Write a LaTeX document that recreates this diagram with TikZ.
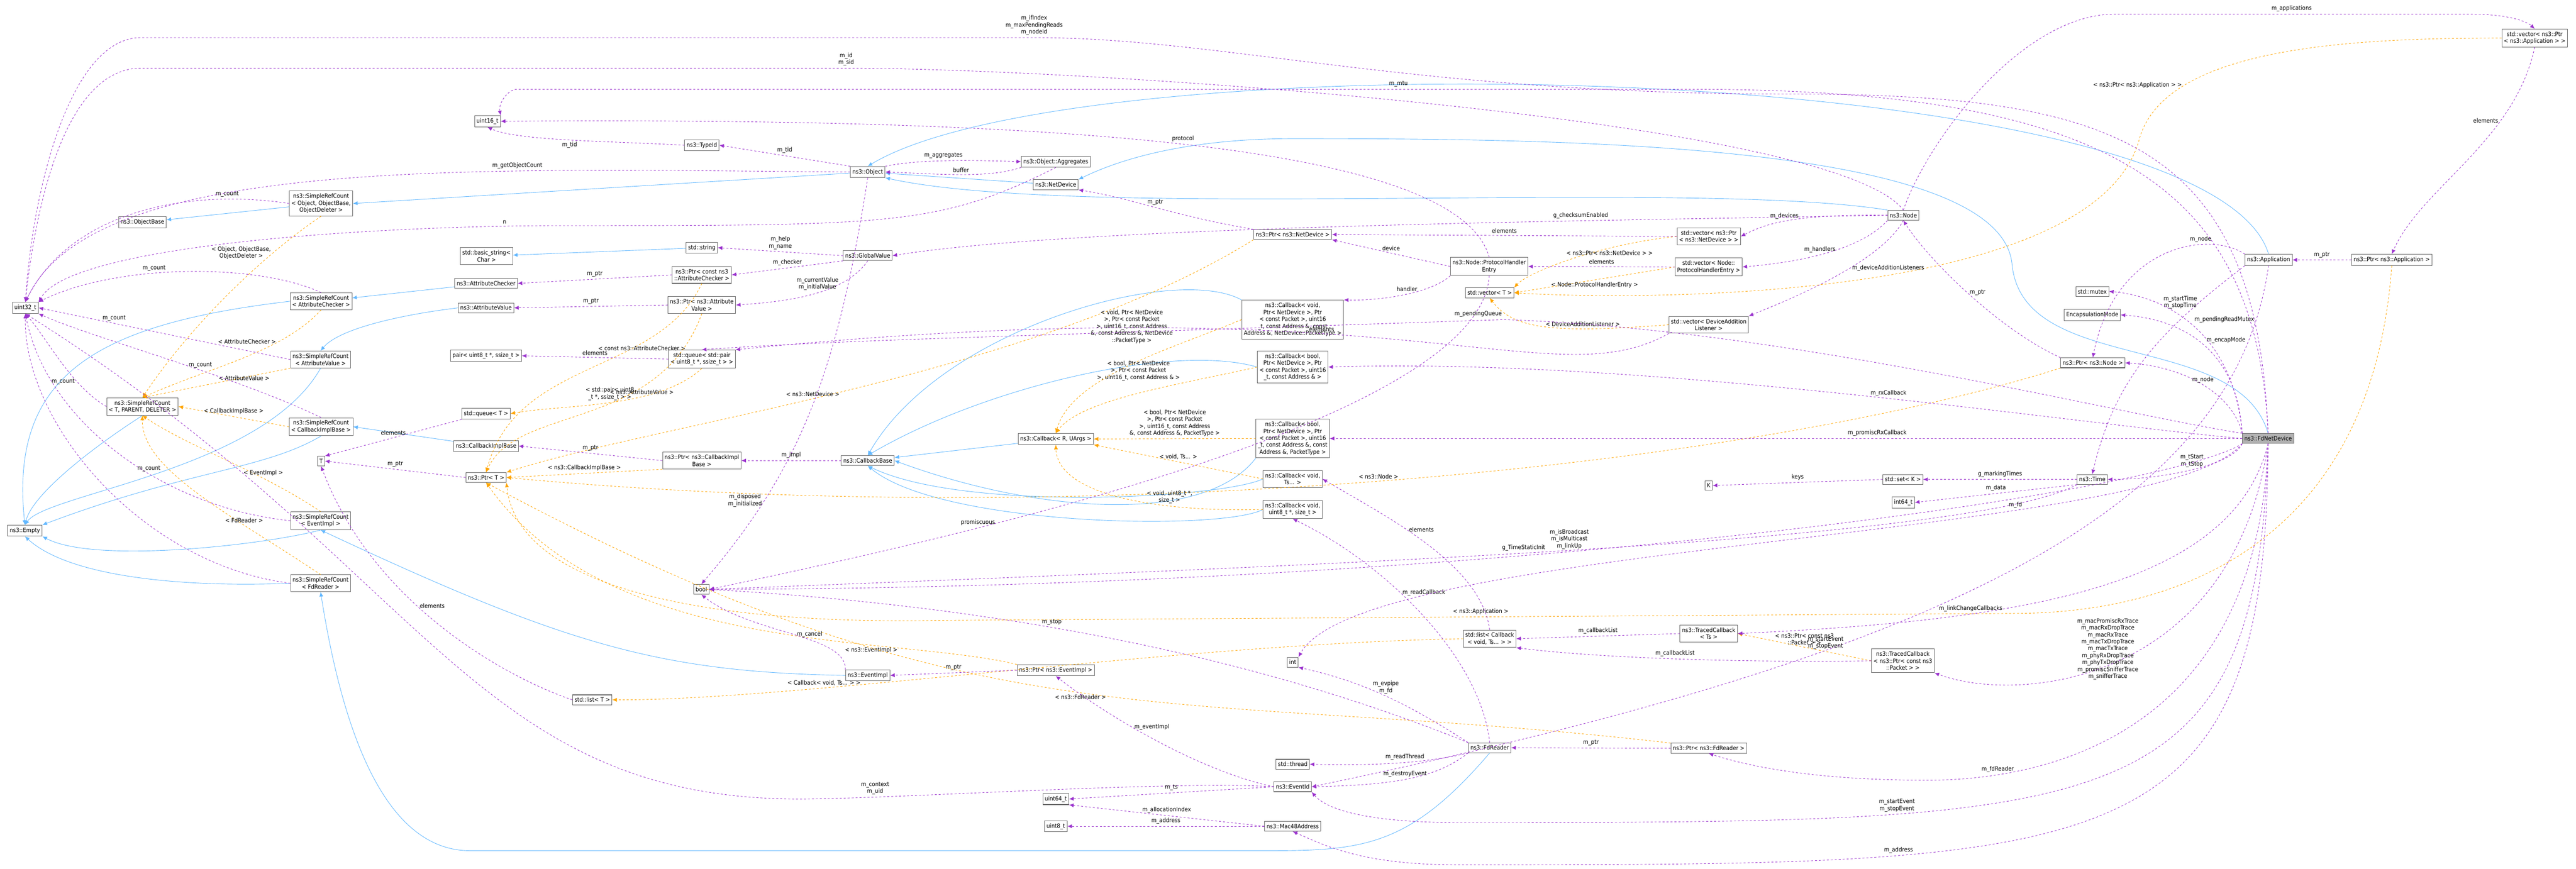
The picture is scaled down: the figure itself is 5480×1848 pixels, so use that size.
\documentclass[tikz,border=0pt]{standalone}
\usepackage{fontspec}
\setmainfont{DejaVu Sans Condensed}
\usetikzlibrary{arrows.meta}
\definecolor{memcol}{HTML}{9A32CD}
\definecolor{tplcol}{HTML}{FFA500}
\definecolor{inhcol}{HTML}{63B8FF}
\newcommand{\fsz}{\fontsize{9}{10.5}\selectfont}

\begin{document}
\begin{tikzpicture}[x=0.025cm, y=-0.025cm,
    box/.style={draw=gray!80!black, fill=white, align=center, font=\fsz, inner xsep=3pt, inner ysep=4pt, line width=0.8pt},
    mem/.style={memcol, dashed, line width=0.7pt, -{Latex[length=7pt,width=6pt]}},
    tpl/.style={tplcol, dashed, line width=0.7pt, -{Latex[length=7pt,width=6pt]}},
    inh/.style={inhcol, line width=0.7pt, -{Latex[length=7pt,width=6pt]}},
    lbl/.style={font=\fsz, align=center, text=black}]
    \useasboundingbox (0,0) rectangle (5480,1848);

    % left column
    \node[box] (u32) at (54,655) {uint32\_t};
    \node[box] (srcobj) at (683,433) {ns3::SimpleRefCount\\< Object, ObjectBase,\\ObjectDeleter >};
    \node[box] (objbase) at (303,473) {ns3::ObjectBase};
    \node[box] (bstr) at (1035,545) {std::basic\_string<\\Char >};
    \node[box] (attrchk) at (1034,603) {ns3::AttributeChecker};
    \node[box] (srcchk) at (683,641) {ns3::SimpleRefCount\\< AttributeChecker >};
    \node[box] (attrval) at (1034,655) {ns3::AttributeValue};
    \node[box] (srcval) at (682,765) {ns3::SimpleRefCount\\< AttributeValue >};
    \node[box] (pair) at (1034,757) {pair< uint8\_t *, ssize\_t >};
    \node[box] (srctpd) at (303,865) {ns3::SimpleRefCount\\< T, PARENT, DELETER >};
    \node[box] (srccib) at (683,908) {ns3::SimpleRefCount\\< CallbackImplBase >};
    \node[box] (queueT) at (1034,880) {std::queue< T >};
    \node[box] (cib) at (1034,949) {ns3::CallbackImplBase};
    \node[box] (T) at (683,981) {T};
    \node[box] (ptrT) at (1034,1016) {ns3::Ptr< T >};
    \node[box] (empty) at (53,1129) {ns3::Empty};
    \node[box] (srcev) at (682,1108) {ns3::SimpleRefCount\\< EventImpl >};
    \node[box] (srcfd) at (682,1241) {ns3::SimpleRefCount\\< FdReader >};
    \node[box] (bool) at (1492,1254) {bool};
    \node[box] (listT) at (1260,1489) {std::list< T >};

    % middle
    \node[box] (u16) at (1037,258) {uint16\_t};
    \node[box] (typeid) at (1493,309) {ns3::TypeId};
    \node[box] (object) at (1846,366) {ns3::Object};
    \node[box] (aggr) at (2246,344) {ns3::Object::Aggregates};
    \node[box] (netdev) at (2246,393) {ns3::NetDevice};
    \node[box] (str) at (1493,527) {std::string};
    \node[box] (gval) at (1846,544) {ns3::GlobalValue};
    \node[box] (ptrchk) at (1493,585) {ns3::Ptr< const ns3\\::AttributeChecker >};
    \node[box] (ptrval) at (1493,649) {ns3::Ptr< ns3::Attribute\\Value >};
    \node[box] (queuepair) at (1493,764) {std::queue< std::pair\\< uint8\_t *, ssize\_t > >};
    \node[box] (ptrcib) at (1493,980) {ns3::Ptr< ns3::CallbackImpl\\Base >};
    \node[box] (cbbase) at (1846,980) {ns3::CallbackBase};
    \node[box] (cbR) at (2246,934) {ns3::Callback< R, UArgs >};
    \node[box] (evimpl) at (1846,1437) {ns3::EventImpl};
    \node[box] (ptrev) at (2246,1426) {ns3::Ptr< ns3::EventImpl >};
    \node[box] (u64) at (2246,1700) {uint64\_t};
    \node[box] (u8) at (2246,1758) {uint8\_t};

    \node[box] (ptrnd) at (2750,499) {ns3::Ptr< ns3::NetDevice >};
    \node[box] (cbhandler) at (2750,680) {ns3::Callback< void,\\ Ptr< NetDevice >, Ptr\\< const Packet >, uint16\\\_t, const Address \&, const\\ Address \&, NetDevice::PacketType >};
    \node[box] (cbrx) at (2750,781) {ns3::Callback< bool,\\ Ptr< NetDevice >, Ptr\\< const Packet >, uint16\\\_t, const Address \& >};
    \node[box] (cbprom) at (2750,933) {ns3::Callback< bool,\\ Ptr< NetDevice >, Ptr\\< const Packet >, uint16\\\_t, const Address \&, const\\ Address \&, PacketType >};
    \node[box] (cbvts) at (2750,1019) {ns3::Callback< void,\\ Ts... >};
    \node[box] (cbread) at (2750,1084) {ns3::Callback< void,\\ uint8\_t *, size\_t >};
    \node[box] (int) at (2750,1409) {int};
    \node[box] (thread) at (2750,1626) {std::thread};
    \node[box] (evid) at (2750,1674) {ns3::EventId};
    \node[box] (mac) at (2750,1758) {ns3::Mac48Address};

    % right
    \node[box] (phe) at (3168,567) {ns3::Node::ProtocolHandler\\Entry};
    \node[box] (vecT) at (3169,623) {std::vector< T >};
    \node[box] (listcb) at (3169,1359) {std::list< Callback\\< void, Ts... > >};
    \node[box] (fdr) at (3169,1591) {ns3::FdReader};
    \node[box] (vecnd) at (3635,503) {std::vector< ns3::Ptr\\< ns3::NetDevice > >};
    \node[box] (vecphe) at (3635,568) {std::vector< Node::\\ProtocolHandlerEntry >};
    \node[box] (vecdal) at (3635,691) {std::vector< DeviceAddition\\Listener >};
    \node[box] (K) at (3635,1033) {K};
    \node[box] (tcts) at (3635,1348) {ns3::TracedCallback\\< Ts >};
    \node[box] (ptrfdr) at (3635,1592) {ns3::Ptr< ns3::FdReader >};
    \node[box] (node) at (4049,458) {ns3::Node};
    \node[box] (setK) at (4048,1020) {std::set< K >};
    \node[box] (i64) at (4049,1069) {int64\_t};
    \node[box] (tcpkt) at (4048,1406) {ns3::TracedCallback\\< ns3::Ptr< const ns3\\::Packet > >};
    \node[box] (mutex) at (4451,620) {std::mutex};
    \node[box] (encap) at (4451,670) {EncapsulationMode};
    \node[box] (ptrnode) at (4452,772) {ns3::Ptr< ns3::Node >};
    \node[box] (time) at (4451,1020) {ns3::Time};
    \node[box] (app) at (4826,553) {ns3::Application};
    \node[box, fill=gray!60] (fdnd) at (4825,933) {ns3::FdNetDevice};
    \node[box] (ptrapp) at (5088,553) {ns3::Ptr< ns3::Application >};
    \node[box] (vecapp) at (5392,81) {std::vector< ns3::Ptr\\< ns3::Application > >};

    % inheritance
    \draw[inh] (srcobj) -- (objbase);
    \draw[inh] (object) -- (srcobj.east);
    \draw[inh] (netdev) -- (object);
    \draw[inh] (node.north west) .. controls (3600,380) and (2300,470) .. (object.south east);
    \draw[inh] (app.north) .. controls (4700,120) and (2300,80) .. (object.north);
    \draw[inh] (fdnd.north) .. controls (4760,700) and (4300,800) .. (4280,560) .. controls (4250,300) and (3300,295) .. (2750,295) .. controls (2550,295) and (2400,330) .. (netdev.north east);
    \draw[inh] (str) -- (bstr);
    \draw[inh] (attrchk) -- (srcchk);
    \draw[inh] (attrval.west) .. controls (850,670) and (720,700) .. (srcval.north);
    \draw[inh] (srcchk.west) .. controls (200,690) and (20,800) .. (empty.north);
    \draw[inh] (srcval.south) .. controls (560,1000) and (100,1050) .. (empty.north);
    \draw[inh] (srctpd.south) .. controls (200,950) and (70,1050) .. (empty.north);
    \draw[inh] (srccib.south) .. controls (560,1000) and (400,1000) .. (empty.north east);
    \draw[inh] (cib) -- (srccib.east);
    \draw[inh] (srcev.south) .. controls (560,1160) and (200,1200) .. (empty.south east);
    \draw[inh] (srcfd.west) .. controls (400,1250) and (150,1230) .. (empty.south);
    \draw[inh] (evimpl.west) .. controls (1400,1430) and (1200,1370) .. (srcev.south);
    \draw[inh] (fdr.south) .. controls (3000,1800) and (2900,1810) .. (2700,1810) -- (1000,1810) .. controls (800,1810) and (720,1500) .. (srcfd.south);
    \draw[inh] (cbR) -- (cbbase);
    \draw[inh] (cbhandler.north west) .. controls (2500,560) and (2000,700) .. (cbbase.north);
    \draw[inh] (cbrx.west) .. controls (2500,730) and (2100,820) .. (cbbase.north);
    \draw[inh] (cbprom.south west) .. controls (2560,1120) and (2200,1090) .. (cbbase.east);
    \draw[inh] (cbvts.west) .. controls (2600,1060) and (2050,1090) .. (cbbase.south);
    \draw[inh] (cbread.west) .. controls (2600,1130) and (2000,1120) .. (cbbase.south);

    % templates
    \draw[tpl] (srcobj.south) .. controls (550,550) and (400,700) .. (srctpd.north) node[lbl, pos=0.25, left] {< Object, ObjectBase,\\ObjectDeleter >};
    \draw[tpl] (srcchk.south) .. controls (600,750) and (450,780) .. (srctpd.north) node[lbl, pos=0.3, left] {< AttributeChecker >};
    \draw[tpl] (srcval.south west) -- (srctpd.north) node[lbl, midway, above right] {< AttributeValue >};
    \draw[tpl] (srccib.west) -- (srctpd.east) node[lbl, midway, above] {< CallbackImplBase >};
    \draw[tpl] (srcev.north) .. controls (550,1000) and (400,950) .. (srctpd.south) node[lbl, pos=0.3, above] {< EventImpl >};
    \draw[tpl] (srcfd.north) .. controls (500,1100) and (300,1000) .. (srctpd.south) node[lbl, pos=0.3, above] {< FdReader >};
    \draw[tpl] (queuepair.south) .. controls (1400,870) and (1200,860) .. (queueT.east) node[lbl, pos=0.5, above] {< std::pair< uint8\\\_t *, ssize\_t > >};
    \draw[tpl] (ptrchk.south) .. controls (1400,800) and (1100,760) .. (ptrT.north) node[lbl, pos=0.3, below] {< const ns3::AttributeChecker >};
    \draw[tpl] (ptrval.south) .. controls (1400,920) and (1100,860) .. (ptrT.north) node[lbl, pos=0.3, below] {< ns3::AttributeValue >};
    \draw[tpl] (ptrcib.south west) -- (ptrT.east) node[lbl, midway, above] {< ns3::CallbackImplBase >};
    \draw[tpl] (ptrnd.south west) .. controls (2200,800) and (1400,900) .. (ptrT.north east) node[lbl, pos=0.55, above] {< ns3::NetDevice >};
    \draw[tpl] (ptrev.north west) .. controls (1900,1350) and (1300,1400) .. (ptrT.south) node[lbl, pos=0.3, below] {< ns3::EventImpl >};
    \draw[tpl] (ptrfdr.north west) .. controls (2500,1460) and (2100,1600) .. (ptrT.south) node[lbl, pos=0.5, below] {< ns3::FdReader >};
    \draw[tpl] (ptrnode.south west) .. controls (3700,1000) and (2300,1130) .. (ptrT.east) node[lbl, pos=0.5, above] {< ns3::Node >};
    \draw[tpl] (ptrapp.south) .. controls (5050,1100) and (4700,1300) .. (4300,1305) -- node[lbl, pos=0.5, above] {< ns3::Application >} (2000,1320) .. controls (1500,1330) and (1100,1250) .. (ptrT.south east);
    \draw[tpl] (listcb.west) .. controls (2500,1370) and (1700,1490) .. (listT.east) node[lbl, pos=0.7, above] {< Callback< void, Ts... > >};
    \draw[tpl] (cbhandler.west) .. controls (2500,740) and (2280,800) .. (cbR.north) node[lbl, pos=0.3, above left] {< void, Ptr< NetDevice\\>, Ptr< const Packet\\>, uint16\_t, const Address\\\&, const Address \&, NetDevice\\::PacketType >};
    \draw[tpl] (cbrx.west) .. controls (2500,820) and (2300,850) .. (cbR.north) node[lbl, pos=0.3, above left] {< bool, Ptr< NetDevice\\>, Ptr< const Packet\\>, uint16\_t, const Address \& >};
    \draw[tpl] (cbprom.west) -- (cbR.east) node[lbl, midway, above] {< bool, Ptr< NetDevice\\>, Ptr< const Packet\\>, uint16\_t, const Address\\\&, const Address \&, PacketType >};
    \draw[tpl] (cbvts.west) -- (cbR.south east) node[lbl, midway, above] {< void, Ts... >};
    \draw[tpl] (cbread.west) .. controls (2450,1090) and (2250,1050) .. (cbR.south) node[lbl, pos=0.3, above] {< void, uint8\_t *,\\size\_t >};
    \draw[tpl] (vecnd.west) .. controls (3400,520) and (3250,580) .. (vecT.north east) node[lbl, pos=0.3, below] {< ns3::Ptr< ns3::NetDevice > >};
    \draw[tpl] (vecphe.west) -- (vecT.east) node[lbl, midway, below] {< Node::ProtocolHandlerEntry >};
    \draw[tpl] (vecdal.west) .. controls (3300,710) and (3220,700) .. (vecT.south) node[lbl, pos=0.3, above] {< DeviceAdditionListener >};
    \draw[tpl] (vecapp.west) .. controls (5000,81) and (4600,100) .. (4550,300) node[lbl, pos=0.75, left] {< ns3::Ptr< ns3::Application > >} .. controls (4450,640) and (3500,640) .. (vecT.east);
    \draw[tpl] (tcpkt.west) -- (tcts.east) node[lbl, midway, above] {< ns3::Ptr< const ns3\\::Packet > >};

    % members
    \draw[mem] (srcobj.west) .. controls (400,400) and (150,450) .. (u32.north) node[lbl, pos=0.2, above] {m\_count};
    \draw[mem] (srcchk.north) .. controls (550,560) and (250,560) .. (u32.north east) node[lbl, pos=0.6, above] {m\_count};
    \draw[mem] (srcval.west) -- (u32.east) node[lbl, pos=0.7, above] {m\_count};
    \draw[mem] (srctpd.west) .. controls (150,820) and (100,720) .. (u32.south) node[lbl, pos=0.3, left] {m\_count};
    \draw[mem] (srccib.north) .. controls (500,800) and (200,720) .. (u32.south east) node[lbl, pos=0.4, above] {m\_count};
    \draw[mem] (srcev.west) .. controls (350,1080) and (100,900) .. (u32.south) node[lbl, pos=0.4, above] {m\_count};
    \draw[mem] (srcfd.west) .. controls (300,1200) and (50,900) .. (u32.south);
    \draw[mem] (object.west) .. controls (1000,360) and (200,330) .. (u32.north) node[lbl, pos=0.3, above] {m\_getObjectCount};
    \draw[mem] (object.north west) -- (typeid.east) node[lbl, midway, above] {m\_tid};
    \draw[mem] (typeid.west) .. controls (1300,300) and (1100,300) .. (u16.south) node[lbl, midway, below] {m\_tid};
    \draw[mem] (object.north east) .. controls (1950,340) and (2050,340) .. (aggr.west) node[lbl, midway, above] {m\_aggregates};
    \draw[mem] (aggr.south west) .. controls (2100,380) and (2000,370) .. (object.east) node[lbl, midway, above] {buffer};
    \draw[mem] (aggr.south) .. controls (2000,480) and (1900,480) .. (1200,480) .. controls (800,480) and (150,520) .. (u32.north east) node[lbl, pos=0.1, above] {n};
    \draw[mem] (object.south) .. controls (1780,800) and (1700,1000) .. (bool.north) node[lbl, pos=0.75, left] {m\_disposed\\m\_initialized};
    \draw[mem] (gval.west) -- (str.east) node[lbl, midway, above] {m\_help\\m\_name};
    \draw[mem] (gval.south west) -- (ptrchk.east) node[lbl, midway, above] {m\_checker};
    \draw[mem] (gval.south) .. controls (1800,620) and (1700,640) .. (ptrval.east) node[lbl, pos=0.5, above] {m\_currentValue\\m\_initialValue};
    \draw[mem] (ptrchk.west) -- (attrchk.east) node[lbl, midway, above] {m\_ptr};
    \draw[mem] (ptrval.west) -- (attrval.east) node[lbl, midway, above] {m\_ptr};
    \draw[mem] (queuepair.west) -- (pair.east) node[lbl, midway, above] {elements};
    \draw[mem] (queueT.south west) -- (T.north east) node[lbl, midway, above] {elements};
    \draw[mem] (ptrT.west) -- (T.east) node[lbl, midway, above] {m\_ptr};
    \draw[mem] (listT.west) .. controls (1100,1450) and (800,1300) .. (T.south) node[lbl, pos=0.6, right] {elements};
    \draw[mem] (ptrcib.west) -- (cib.east) node[lbl, midway, above] {m\_ptr};
    \draw[mem] (cbbase.west) -- (ptrcib.east) node[lbl, midway, above] {m\_impl};
    \draw[mem] (evimpl.north west) .. controls (1800,1350) and (1600,1350) .. (bool.south) node[lbl, pos=0.4, above] {m\_cancel};
    \draw[mem] (ptrev.west) -- (evimpl.east) node[lbl, midway, above] {m\_ptr};
    \draw[mem] (evid.west) .. controls (2550,1640) and (2350,1520) .. (ptrev.south) node[lbl, pos=0.6, right] {m\_eventImpl};
    \draw[mem] (evid.west) .. controls (2500,1660) and (1900,1700) .. (1700,1700) node[lbl, pos=0.8, above] {m\_context\\m\_uid} .. controls (1000,1700) and (900,1200) .. (u32.south);
    \draw[mem] (evid.west) -- (u64.east) node[lbl, midway, above] {m\_ts};
    \draw[mem] (mac.west) -- (u64.south east) node[lbl, midway, above] {m\_allocationIndex};
    \draw[mem] (mac.west) -- (u8.east) node[lbl, midway, above] {m\_address};
    \draw[mem] (fdr.south west) .. controls (3050,1620) and (2950,1630) .. (thread.east) node[lbl, midway, above] {m\_readThread};
    \draw[mem] (fdr.south west) .. controls (3050,1660) and (2950,1670) .. (evid.east) node[lbl, midway, above] {m\_destroyEvent};
    \draw[mem] (fdr.north west) .. controls (3000,1500) and (2900,1450) .. (int.south east) node[lbl, midway, above] {m\_evpipe\\m\_fd};
    \draw[mem] (fdr.north west) .. controls (2800,1450) and (2300,1300) .. (bool.east) node[lbl, pos=0.65, above] {m\_stop};
    \draw[mem] (fdr.north) .. controls (3150,1400) and (2950,1200) .. (cbread.south) node[lbl, pos=0.6, right] {m\_readCallback};
    \draw[mem] (ptrfdr.west) -- (fdr.east) node[lbl, midway, above] {m\_ptr};
    \draw[mem] (listcb.north) .. controls (3150,1200) and (2950,1100) .. (cbvts.east) node[lbl, pos=0.6, right] {elements};
    \draw[mem] (tcts.west) -- (listcb.east) node[lbl, midway, above] {m\_callbackList};
    \draw[mem] (tcpkt.west) .. controls (3700,1410) and (3400,1400) .. (listcb.south east) node[lbl, pos=0.5, above] {m\_callbackList};
    \draw[mem] (time.west) -- (setK.east) node[lbl, midway, above] {g\_markingTimes};
    \draw[mem] (setK.west) -- (K.east) node[lbl, midway, above] {keys};
    \draw[mem] (time.south west) -- (i64.east) node[lbl, midway, above] {m\_data};
    \draw[mem] (time.south west) .. controls (4200,1150) and (2900,1200) .. (bool.east) node[lbl, pos=0.55, above] {g\_TimeStaticInit};
    \draw[mem] (ptrnd.north west) .. controls (2500,460) and (2400,420) .. (netdev.south east) node[lbl, pos=0.5, above] {m\_ptr};
    \draw[mem] (vecnd.west) -- (ptrnd.east) node[lbl, midway, above] {elements};
    \draw[mem] (vecphe.west) -- (phe.east) node[lbl, midway, above] {elements};
    \draw[mem] (phe.west) -- (ptrnd.south east) node[lbl, midway, above] {device};
    \draw[mem] (phe.south west) .. controls (3050,620) and (2950,640) .. (cbhandler.north east) node[lbl, midway, above] {handler};
    \draw[mem] (phe.north) .. controls (3100,300) and (2200,250) .. (u16.east) node[lbl, pos=0.5, above] {protocol};
    \draw[mem] (phe.south) .. controls (3150,900) and (2000,1150) .. (bool.east) node[lbl, pos=0.7, above] {promiscuous};
    \draw[mem] (vecdal.south west) .. controls (3300,850) and (3000,600) .. (queuepair.north east) node[lbl, pos=0.6, above] {elements};
    \draw[mem] (node.west) .. controls (3800,455) and (3750,480) .. (vecnd.east) node[lbl, midway, above] {m\_devices};
    \draw[mem] (node.south west) .. controls (3950,540) and (3800,560) .. (vecphe.east) node[lbl, midway, above] {m\_handlers};
    \draw[mem] (node.south) .. controls (4000,560) and (3800,640) .. (vecdal.north east) node[lbl, pos=0.4, right] {m\_deviceAdditionListeners};
    \draw[mem] (node.west) .. controls (3400,470) and (2300,480) .. (gval.east) node[lbl, pos=0.3, above] {g\_checksumEnabled};
    \draw[mem] (node.north) .. controls (3900,250) and (2300,145) .. (1800,145) -- node[lbl, pos=0, above] {m\_id\\m\_sid} (300,145) .. controls (150,145) and (80,400) .. (u32.north);
    \draw[mem] (node.north) .. controls (4100,300) and (4300,30) .. (4500,30) -- node[lbl, pos=0.5, above] {m\_applications} (5250,30) .. controls (5350,30) and (5380,50) .. (vecapp.north);
    \draw[mem] (ptrnode.north west) .. controls (4250,700) and (4100,550) .. (node.south) node[lbl, midway, right] {m\_ptr};
    \draw[mem] (vecapp.south) .. controls (5350,300) and (5150,400) .. (ptrapp.north) node[lbl, pos=0.3, left] {elements};
    \draw[mem] (ptrapp.west) -- (app.east) node[lbl, midway, above] {m\_ptr};
    \draw[mem] (app.north west) .. controls (4700,490) and (4500,520) .. (ptrnode.north) node[lbl, pos=0.3, above] {m\_node};
    \draw[mem] (app.south west) .. controls (4600,700) and (4500,800) .. (time.north) node[lbl, pos=0.2, left] {m\_startTime\\m\_stopTime};
    \draw[mem] (app.south) .. controls (4750,1100) and (4100,1400) .. (evid.east) node[lbl, pos=0.65, left] {m\_startEvent\\m\_stopEvent};
    % FdNetDevice members
    \draw[mem] (fdnd.north west) .. controls (4750,700) and (4600,630) .. (mutex.east) node[lbl, midway, above right] {m\_pendingReadMutex};
    \draw[mem] (fdnd.north west) .. controls (4760,750) and (4650,680) .. (encap.east) node[lbl, midway, above right] {m\_encapMode};
    \draw[mem] (fdnd.north west) .. controls (4750,840) and (4650,780) .. (ptrnode.east) node[lbl, midway, above] {m\_node};
    \draw[mem] (fdnd.south west) .. controls (4750,990) and (4600,1020) .. (time.east) node[lbl, midway, above] {m\_tStart\\m\_tStop};
    \draw[mem] (fdnd.west) .. controls (4400,900) and (3500,760) .. (cbrx.east) node[lbl, pos=0.45, above] {m\_rxCallback};
    \draw[mem] (fdnd.west) -- (cbprom.east) node[lbl, pos=0.4, above] {m\_promiscRxCallback};
    \draw[mem] (fdnd.north west) .. controls (4500,880) and (3800,700) .. (3200,680) -- node[lbl, pos=0, above left] {m\_pendingQueue} (2000,720) .. controls (1700,730) and (1550,740) .. (queuepair.north);
    \draw[mem] (fdnd.south west) .. controls (4600,1050) and (3200,1250) .. (bool.east) node[lbl, pos=0.6, above] {m\_isBroadcast\\m\_isMulticast\\m\_linkUp};
    \draw[mem] (fdnd.south west) .. controls (4600,1150) and (2900,1150) .. (int.north east) node[lbl, pos=0.3, above] {m\_fd};
    \draw[mem] (fdnd.south) .. controls (4750,1250) and (4300,1320) .. (tcts.east) node[lbl, pos=0.7, above] {m\_linkChangeCallbacks};
    \draw[mem] (fdnd.south) .. controls (4750,1450) and (4300,1500) .. (tcpkt.south east) node[lbl, pos=0.45, left] {m\_macPromiscRxTrace\\m\_macRxDropTrace\\m\_macRxTrace\\m\_macTxDropTrace\\m\_macTxTrace\\m\_phyRxDropTrace\\m\_phyTxDropTrace\\m\_promiscSnifferTrace\\m\_snifferTrace};
    \draw[mem] (fdnd.south) .. controls (4800,1600) and (4300,1660) .. (4100,1660) node[lbl, pos=0.8, above] {m\_fdReader} .. controls (3900,1660) and (3750,1640) .. (ptrfdr.south);
    \draw[mem] (fdnd.south) .. controls (4800,1750) and (4500,1750) .. (3100,1750) node[lbl, pos=0.72, above] {m\_startEvent\\m\_stopEvent} .. controls (2900,1750) and (2820,1720) .. (evid.south east);
    \draw[mem] (fdnd.south) .. controls (4820,1840) and (4500,1840) .. (3100,1840) node[lbl, pos=0.72, above] {m\_address} .. controls (2900,1840) and (2820,1800) .. (mac.south);
    \draw[mem] (fdnd.north) .. controls (4800,400) and (4500,190) .. (3600,190) -- node[lbl, pos=0.25, above] {m\_mtu} (1100,190) .. controls (1080,190) and (1060,220) .. (u16.north east);
    \draw[mem] (fdnd.north) .. controls (4800,300) and (4500,200) .. (3800,200) .. controls (3000,200) and (2600,80) .. (2200,80) -- node[lbl, pos=0, above] {m\_ifIndex\\m\_maxPendingReads\\m\_nodeId} (300,80) .. controls (150,80) and (70,400) .. (u32.north);
\end{tikzpicture}
\end{document}
